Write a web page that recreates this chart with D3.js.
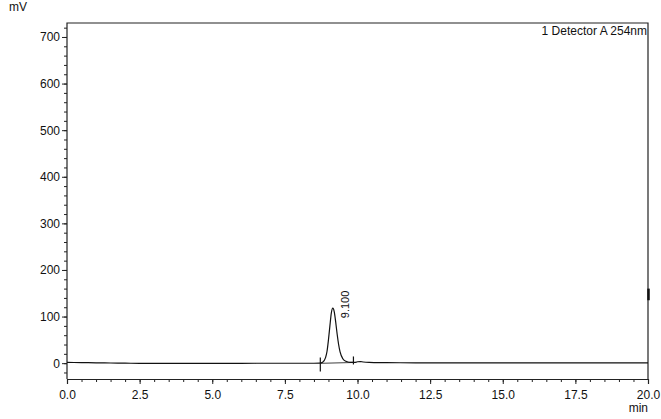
<!DOCTYPE html>
<meta charset="utf-8">
<title>Chromatogram</title>
<style>
body { margin:0; background:#fff; }
text { font-family: "Liberation Sans", Arial, sans-serif; fill:#111; }
.tick text { font-size:12px; }
.trace { fill:none; stroke:#111; stroke-width:1.2px; }
.base { fill:none; stroke:#666; stroke-width:1.2px; }
</style>
<body>
<div id="chart"></div>
<script src="https://d3js.org/d3.v7.min.js"></script>
<script>
// retention time (min) and detector signal (mV)
var times  = [0, 0.5, 1, 1.5, 2, 2.5, 3, 4, 5, 6, 7, 8, 8.5, 8.7, 8.8, 8.9, 8.95, 9.0, 9.05, 9.1, 9.15, 9.2, 9.25, 9.3, 9.35, 9.4, 9.5, 9.6, 9.7, 9.8, 9.9, 10.0, 10.1, 10.2, 10.4, 10.6, 11, 12, 14, 16, 18, 20];
var signal = [1.5, 1.2, 0.8, 0.3, 0, -0.5, -0.5, -0.5, -0.3, -0.3, -0.2, -0.2, -0.2, 0, 2, 12, 25, 50, 80, 108, 118, 110, 88, 62, 40, 24, 9, 4, 2, 1.5, 1.5, 3, 3.5, 2.5, 1.5, 1.2, 1, 0.8, 0.6, 0.5, 0.5, 0.5];

// integration baseline of the peak (start, end)
var peakBase = [[8.72, -0.5], [9.86, 1.5]];
var peakLabel = {t: 9.14, v: 118, text: "9.100"};

var xTicks = [0, 2.5, 5, 7.5, 10, 12.5, 15, 17.5, 20];
var yTicks = [0, 100, 200, 300, 400, 500, 600, 700];

var width = 661, height = 419;
var mLeft = 67, mRight = 648, mTop = 23, mBottom = 379;

var x = d3.scaleLinear().domain([0, 20]).range([mLeft, mRight]);
var y = d3.scaleLinear().domain([-34, 730]).range([mBottom, mTop]);

var svg = d3.select("#chart").append("svg")
    .attr("width", width)
    .attr("height", height);

// frame
svg.append("path")
   .attr("d", "M" + mLeft + "," + mBottom + "V" + mTop + "H" + mRight + "V" + mBottom)
   .attr("fill", "none")
   .attr("stroke", "#222")
   .attr("stroke-width", 1.2);

// y axis, minor then major
svg.append("g")
   .attr("transform", "translate(" + mLeft + ",0)")
   .call(d3.axisLeft(y).tickValues(d3.range(-20, 730, 20)).tickSize(3).tickFormat(""))
   .call(function(g){ g.select(".domain").remove(); });

svg.append("g")
   .attr("transform", "translate(" + mLeft + ",0)")
   .call(d3.axisLeft(y).tickValues(yTicks).tickSize(5).tickPadding(2).tickFormat(d3.format("d")))
   .call(function(g){ g.select(".domain").remove(); });

// x axis
svg.append("g")
   .attr("transform", "translate(0," + mBottom + ")")
   .call(d3.axisBottom(x).tickValues(d3.range(0, 20.01, 0.5)).tickSize(3).tickFormat(""))
   .call(function(g){ g.select(".domain").remove(); });

svg.append("g")
   .attr("transform", "translate(0," + mBottom + ")")
   .call(d3.axisBottom(x).tickValues(xTicks).tickSize(5).tickPadding(6).tickFormat(d3.format(".1f")))
   .call(function(g){ g.select(".domain").attr("stroke", "#222").attr("stroke-width", 1.2); });

svg.selectAll(".tick line").attr("stroke", "#222");

// units
svg.append("text").attr("x", 9).attr("y", 11).style("font-size", "12px").text("mV");
svg.append("text").attr("x", mRight).attr("y", 412).attr("text-anchor", "end")
   .style("font-size", "12px").text("min");

svg.append("text").attr("x", mRight - 1).attr("y", 35).attr("text-anchor", "end")
   .style("font-size", "12px").text("1 Detector A 254nm");

// peak baseline and markers
svg.append("path").attr("class", "base")
   .attr("d", d3.line().x(function(d){ return x(d[0]); }).y(function(d){ return y(d[1]); })(peakBase));

svg.append("path").attr("stroke", "#111").attr("stroke-width", 1.2)
   .attr("d", "M" + x(peakBase[0][0]) + "," + (y(peakBase[0][1]) - 6) + "V" + (y(peakBase[0][1]) + 8));
svg.append("path").attr("stroke", "#111").attr("stroke-width", 1.2)
   .attr("d", "M" + x(peakBase[1][0]) + "," + (y(peakBase[1][1]) - 6) + "V" + (y(peakBase[1][1]) + 2));

// trace
var line = d3.line()
    .x(function(d, i){ return x(times[i]); })
    .y(function(d){ return y(d); })
    .curve(d3.curveMonotoneX);

svg.append("path").datum(signal).attr("class", "trace").attr("d", line);

// peak label, rotated
svg.append("text")
   .attr("transform", "translate(" + (x(peakLabel.t) + 16) + "," + (y(peakLabel.v) + 10) + ")rotate(-90)")
   .style("font-size", "11px")
   .text(peakLabel.text);

// end-of-run marker on the right border
svg.append("path").attr("stroke", "#111").attr("stroke-width", 2.5)
   .attr("d", "M" + (mRight + 0.5) + "," + y(160) + "V" + y(135));
</script>
</body>
</html>
